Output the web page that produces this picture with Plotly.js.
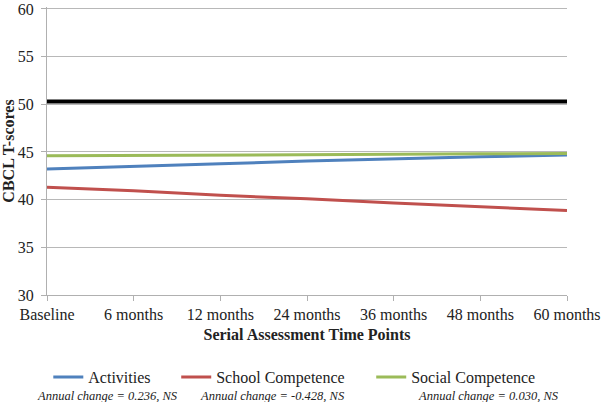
<!DOCTYPE html>
<html>
<head>
<meta charset="utf-8">
<script src="https://cdn.plot.ly/plotly-3.0.1.min.js"></script>
<style>html,body{margin:0;padding:0;background:#fff;}#chart{width:601px;height:402px;}</style>
</head>
<body>
<div id="chart"></div>
<script>
var timePoints = ["Baseline", "6 months", "12 months", "24 months", "36 months", "48 months", "60 months"];
var activities = [43.2, 43.45, 43.75, 44.05, 44.3, 44.5, 44.68];
var schoolCompetence = [41.3, 40.93, 40.45, 40.1, 39.65, 39.23, 38.86];
var socialCompetence = [44.6, 44.62, 44.66, 44.7, 44.75, 44.8, 44.83];
var normReference = [50.3, 50.3, 50.3, 50.3, 50.3, 50.3, 50.3];
var seriesNames = ["Activities", "School Competence", "Social Competence"];
var annualChange = ["Annual change = 0.236, NS", "Annual change = -0.428, NS", "Annual change = 0.030, NS"];

var serif = "Liberation Serif, Times New Roman, serif";
var colors = ["#4F81BD", "#C0504D", "#9BBB59"];
var seriesValues = [activities, schoolCompetence, socialCompetence];
var legendNames = ["legend", "legend2", "legend3"];
var legendX = [0.0025, 0.2485, 0.6235];
var noteX = [0.116, 0.434, 0.849];

var traces = [{
  x: timePoints, y: normReference, type: "scatter", mode: "lines",
  line: {color: "#000000", width: 4}, showlegend: false, hoverinfo: "skip"
}];
for (var i = 0; i < 3; i++) {
  traces.push({
    x: timePoints, y: seriesValues[i], type: "scatter", mode: "lines",
    name: seriesNames[i], legend: legendNames[i],
    line: {color: colors[i], width: 3}
  });
}

function legendCfg(x) {
  return {
    orientation: "h", x: x, xanchor: "left", y: -0.285, yanchor: "middle",
    font: {family: serif, size: 16, color: "#222"}, bgcolor: "rgba(0,0,0,0)"
  };
}

var annotations = [];
for (var j = 0; j < 3; j++) {
  annotations.push({
    xref: "paper", yref: "paper", x: noteX[j], y: -0.351,
    xanchor: "center", yanchor: "middle", showarrow: false,
    text: "<i>" + annualChange[j] + "</i>",
    font: {family: serif, size: 12.5, color: "#222"}
  });
}

var layout = {
  width: 601, height: 402,
  margin: {l: 47, r: 34, t: 7, b: 107},
  paper_bgcolor: "#fff", plot_bgcolor: "#fff",
  font: {family: serif, color: "#222"},
  xaxis: {
    type: "category", range: [0, 6], showgrid: false,
    showline: true, linecolor: "#b0b0b0", linewidth: 1,
    ticks: "outside", ticklen: 5, tickcolor: "#b0b0b0",
    tickfont: {family: serif, size: 16, color: "#222"},
    title: {text: "<b>Serial Assessment Time Points</b>", font: {family: serif, size: 16, color: "#222"}, standoff: 6},
    fixedrange: true
  },
  yaxis: {
    range: [30, 60.2], dtick: 5, tick0: 30,
    showgrid: true, gridcolor: "#b8b8b8", gridwidth: 1, zeroline: false,
    showline: true, linecolor: "#b0b0b0", linewidth: 1,
    ticks: "outside", ticklen: 5, tickcolor: "#b0b0b0",
    ticklabelstandoff: 4, ticklabeloverflow: "allow",
    tickfont: {family: serif, size: 16, color: "#222"},
    title: {text: "<b>CBCL T-scores</b>", font: {family: serif, size: 16, color: "#222"}, standoff: 0},
    fixedrange: true
  },
  legend: legendCfg(legendX[0]),
  legend2: legendCfg(legendX[1]),
  legend3: legendCfg(legendX[2]),
  annotations: annotations,
  showlegend: true
};

Plotly.newPlot("chart", traces, layout, {displayModeBar: false, staticPlot: true});
</script>
</body>
</html>
